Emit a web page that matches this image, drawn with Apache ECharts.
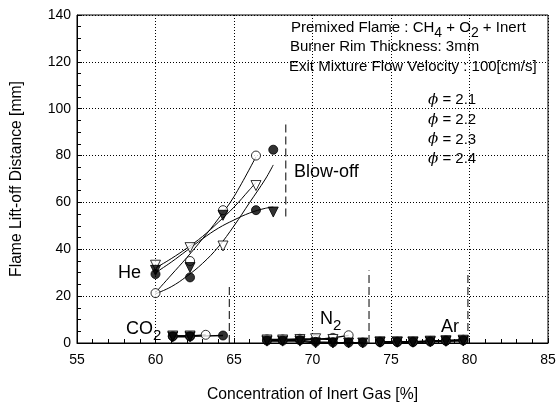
<!DOCTYPE html>
<html><head><meta charset="utf-8">
<script src="https://cdn.jsdelivr.net/npm/echarts@6/dist/echarts.min.js"></script>
<style>html,body{margin:0;padding:0;background:#fff}#c{width:560px;height:408px}</style>
</head><body><div id="c"></div><script>
// ---- data ----
const xTicks = [55, 60, 65, 70, 75, 80, 85];
const yTicks = [0, 20, 40, 60, 80, 100, 120, 140];
const phiLabels = ['2.1', '2.2', '2.3', '2.4'];

// He (markers)
const he21 = [[60,21.3],[62.2,35],[64.3,56.7],[66.4,80]];
const he22 = [[60,33.2],[62.2,40.7],[64.3,41.4],[66.4,67.2]];
const he23 = [[60,29.4],[62.2,28],[66.4,56.7],[67.5,82.5]];
const he24 = [[60,31],[62.2,32.2],[64.3,54.5],[67.5,55.9]];
// He fitted curves
const heFit21 = [[60,21.5],[61,29],[62,36.5],[63,44.5],[64,53],[65,62.5],[66.4,79.5]];
const heFit22 = [[60,32],[61,36],[62,40.5],[63,45.5],[64,51.5],[65,58],[66,65.5],[66.4,68.5]];
const heFit23 = [[60,21],[61,24],[62,28.5],[63,34],[64,41],[65,50],[66,60],[67,70],[67.5,76]];
const heFit24 = [[60,30],[61,34.5],[62,39.5],[63,44.5],[64,49],[65,52.5],[66,55.5],[67,57.5],[67.5,58]];
// CO2
const co2_21 = [[61.1,3],[62.2,3],[63.2,3.5]];
const co2_22 = [[61.1,3],[62.2,3]];
const co2_23 = [[61.1,2.8],[62.2,2.8],[64.3,3.2]];
const co2_24 = [[61.1,2.6],[62.2,2.6]];
// N2
const n2_21 = [[67.1,1.5],[68.1,1.5],[69.2,1.8],[70.2,1.5],[71.3,2.2],[72.3,3.3]];
const n2_22 = [[67.1,1.3],[68.1,1.3],[69.2,1.5],[70.2,1.8],[71.3,1.5]];
const n2_23 = [[67.1,1.0],[68.1,1.0],[69.2,1.2],[70.2,0.5],[71.3,0.3],[72.3,0.2],[73.2,0.2]];
const n2_24 = [[67.1,0.8],[68.1,0.8],[69.2,0.8],[70.2,0],[71.3,0],[72.3,0],[73.2,0]];
// Ar
const ar_21 = [[74.3,0.6],[75.4,0.6],[76.4,0.6],[77.5,0.9],[78.5,1.1],[79.6,1.4]];
const ar_22 = [[74.3,0.5],[75.4,0.5],[76.4,0.5],[77.5,0.8],[78.5,1.0],[79.6,1.2]];
const ar_23 = [[74.3,0.4],[75.4,0.4],[76.4,0.4],[77.5,0.6],[78.5,0.9],[79.6,1.1]];
const ar_24 = [[74.3,0.3],[75.4,0.3],[76.4,0.3],[77.5,0.5],[78.5,0.7],[79.6,0.9]];
// limit / blow-off dashed lines
const blowOff = [[68.3,54],[68.3,95]];
const co2Lim = [[64.7,0],[64.7,24]];
const n2Lim = [[73.6,0],[73.6,31]];
const arLim = [[79.9,0],[79.9,31]];

// ---- chart ----
const FONT = 'Liberation Sans, Arial, sans-serif';
const chart = echarts.init(document.getElementById('c'), null, {renderer:'canvas'});

const openStyle = {color:'#fff', borderColor:'#000', borderWidth:1};
const fillStyle = {color:'#000', borderColor:'#000', borderWidth:1};
const markerDefs = [
  {name:'2.1', sym:'circle', rot:0, style:openStyle, size:9, data:[].concat(he21, co2_21, n2_21, ar_21)},
  {name:'2.2', sym:'triangle', rot:180, style:openStyle, size:10, data:[].concat(he22, co2_22, n2_22, ar_22)},
  {name:'2.3', sym:'circle', rot:0, style:fillStyle, size:9, data:[].concat(he23, co2_23, n2_23, ar_23)},
  {name:'2.4', sym:'triangle', rot:180, style:fillStyle, size:10, data:[].concat(he24, co2_24, n2_24, ar_24)}
];

const series = [];
function line(data, opts) {
  series.push(Object.assign({type:'line', data:data, symbol:'none', silent:true, z:2,
    lineStyle:{color:'#000', width:1}}, opts || {}));
}
[heFit21, heFit22, heFit23, heFit24].forEach(d => line(d, {smooth:0.4}));
[co2_21, co2_22, co2_23, co2_24, n2_21, n2_22, n2_23, n2_24, ar_21, ar_22, ar_23, ar_24].forEach(d => line(d, {lineStyle:{color:'#000', width:1.3}}));
[blowOff, co2Lim, n2Lim, arLim].forEach(d => line(d, {lineStyle:{color:'#000', width:1, type:[8,4]}}));
markerDefs.forEach(m => series.push({
  type:'scatter', name:m.name, data:m.data, symbol:m.sym, symbolRotate:m.rot,
  symbolSize:m.size, itemStyle:m.style, z:5, silent:true
}));

const BIG = 18;
const graphic = [
  {type:'text', x:291, y:28, z:10, style:{text:'Premixed Flame : CH{s|4} + O{s|2} + Inert', font:'15px '+FONT, fill:'#000', verticalAlign:'middle', rich:{s:{fontSize:14, fontFamily:FONT, padding:[10,0,0,0]}}}},
  {type:'text', x:290, y:47, z:10, style:{text:'Burner Rim Thickness: 3mm', font:'15px '+FONT, fill:'#000', verticalAlign:'middle'}},
  {type:'text', x:289, y:67, z:10, style:{text:'Exit Mixture Flow Velocity : 100[cm/s]', font:'15px '+FONT, fill:'#000', verticalAlign:'middle'}},
  {type:'text', x:294, y:172, z:10, style:{text:'Blow-off', font:BIG+'px '+FONT, fill:'#000', verticalAlign:'middle'}},
  {type:'text', x:118, y:273, z:10, style:{text:'He', font:BIG+'px '+FONT, fill:'#000', verticalAlign:'middle'}},
  {type:'text', x:126, y:329, z:10, style:{text:'CO{s|2}', font:BIG+'px '+FONT, fill:'#000', verticalAlign:'middle', rich:{s:{fontSize:15, fontFamily:FONT, padding:[13,0,0,0]}}}},
  {type:'text', x:320, y:319, z:10, style:{text:'N{s|2}', font:BIG+'px '+FONT, fill:'#000', verticalAlign:'middle', rich:{s:{fontSize:15, fontFamily:FONT, padding:[13,0,0,0]}}}},
  {type:'text', x:441, y:327, z:10, style:{text:'Ar', font:BIG+'px '+FONT, fill:'#000', verticalAlign:'middle'}}
];
phiLabels.forEach((p, i) => graphic.push({type:'text', x:428, y:100 + i*19.7, z:10,
  style:{text:'{f|ϕ} = ' + p, font:'15px '+FONT, fill:'#000', verticalAlign:'middle',
    rich:{f:{fontSize:15, fontStyle:'italic', fontFamily:'DejaVu Serif, serif'}}}}));

chart.setOption({
  animation:false,
  backgroundColor:'#fff',
  grid:{left:77, right:12, top:15, bottom:64, show:true, borderColor:'#000', borderWidth:1, backgroundColor:'transparent'},
  xAxis:{type:'value', min:xTicks[0], max:xTicks[xTicks.length-1], interval:5,
    name:'Concentration of Inert Gas [%]', nameLocation:'middle', nameGap:44,
    nameTextStyle:{fontSize:15.7, fontFamily:FONT, color:'#000'},
    axisLine:{show:true, lineStyle:{color:'#000', width:1}},
    axisTick:{show:true, inside:true, length:5, lineStyle:{color:'#000'}},
    minorTick:{show:true, splitNumber:5, length:4, lineStyle:{color:'#000'}},
    axisLabel:{fontSize:14, fontFamily:FONT, color:'#000', margin:10},
    splitLine:{show:true, lineStyle:{color:'#000', type:[1,2], width:1}}},
  yAxis:{type:'value', min:yTicks[0], max:yTicks[yTicks.length-1], interval:20,
    name:'Flame Lift-off Distance [mm]', nameLocation:'middle', nameGap:52, nameRotate:90,
    nameTextStyle:{fontSize:15.7, fontFamily:FONT, color:'#000'},
    axisLine:{show:true, lineStyle:{color:'#000', width:1}},
    axisTick:{show:true, inside:true, length:5, lineStyle:{color:'#000'}},
    minorTick:{show:true, splitNumber:4, length:4, lineStyle:{color:'#000'}},
    axisLabel:{fontSize:14, fontFamily:FONT, color:'#000', margin:6},
    splitLine:{show:true, lineStyle:{color:'#000', type:[1,2], width:1}}},
  graphic: graphic,
  series: series
});
</script></body></html>
